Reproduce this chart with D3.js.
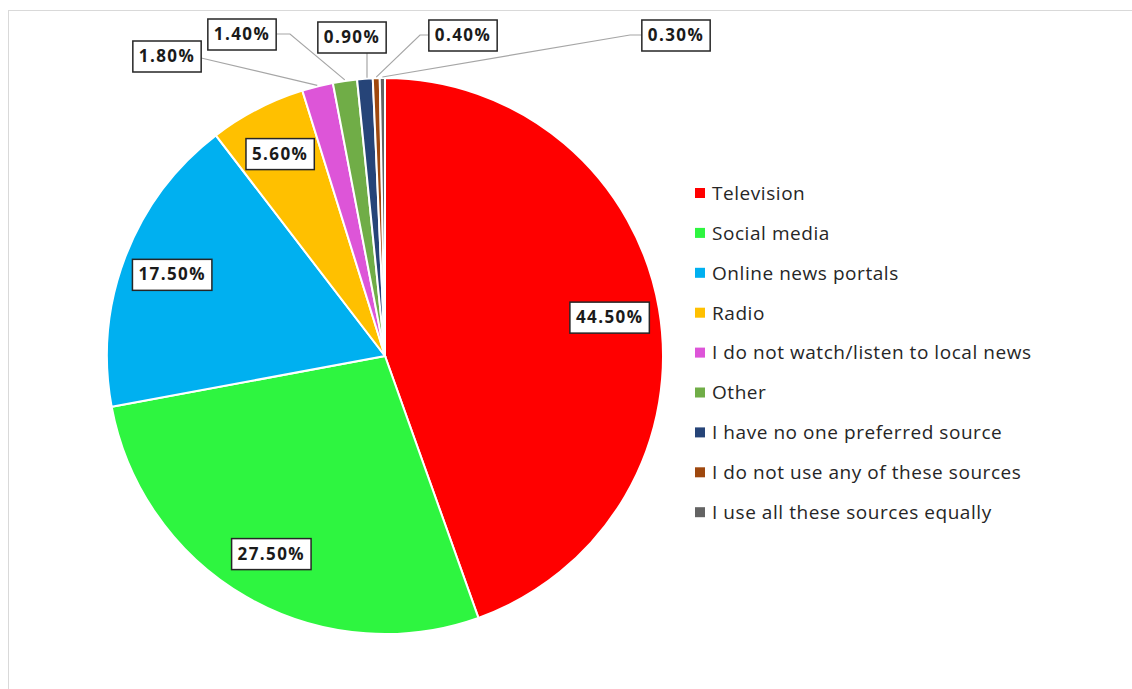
<!DOCTYPE html>
<html>
<head>
<meta charset="utf-8">
<script src="https://cdn.jsdelivr.net/npm/d3@7"></script>
<style>
  body { margin: 0; background: #fff; }
  text { font-family: "Open Sans", Lato, sans-serif; }
</style>
</head>
<body>
<svg id="chart" width="1132" height="689"></svg>
<script>
// data
var categories = ["Television", "Social media", "Online news portals", "Radio",
  "I do not watch/listen to local news", "Other", "I have no one preferred source",
  "I do not use any of these sources", "I use all these sources equally"];
var shares = [44.5, 27.5, 17.5, 5.6, 1.8, 1.4, 0.9, 0.4, 0.3];
var colors = ["#ff0000", "#2ef540", "#00b0f0", "#ffc000", "#dd55d8", "#70ad47", "#264478", "#9e480e", "#636363"];

// manual placement of the small outside labels (Excel style, dragged out)
var outsideLabels = {
  4: { x: 167, y: 56, bend: null },
  5: { x: 242, y: 34, bend: [290, 34] },
  6: { x: 352, y: 37, bend: null, fromX: 367 },
  7: { x: 463, y: 35, bend: [420, 35] },
  8: { x: 676, y: 35, bend: [630, 35] }
};

/***********************************************************************************/
// Setup

var svg = d3.select("#chart");
var cx = 385, cy = 356, R = 278;

// chart area frame
svg.append("rect")
  .attr("x", 8.5).attr("y", 10.5)
  .attr("width", 1200).attr("height", 800)
  .attr("fill", "none").attr("stroke", "#d9d9d9");

var pie = d3.pie().sort(null).value(function(d){ return d; });
var arcs = pie(shares);
var arc = d3.arc().innerRadius(0).outerRadius(R);
var labelArc = d3.arc().innerRadius(R * 0.82).outerRadius(R * 0.82);

var g = svg.append("g").attr("transform", "translate(" + cx + "," + cy + ")");

g.selectAll("path.slice").data(arcs).enter().append("path")
  .attr("class", "slice")
  .attr("d", arc)
  .attr("fill", function(d, i){ return colors[i]; })
  .attr("stroke", "#fff")
  .attr("stroke-width", 2);

/***********************************************************************************/
// Labels

function fmt(v){ return v.toFixed(2) + "%"; }

var leaders = svg.append("g");

function drawLabel(x, y, txt){
  var lg = svg.append("g").attr("transform", "translate(" + x + "," + y + ")");
  var t = lg.append("text")
    .attr("text-anchor", "middle").attr("dy", "0.36em")
    .attr("font-size", 17).attr("font-weight", "bold").attr("fill", "#1a1a1a")
    .attr("letter-spacing", 1.4)
    .text(txt);
  var bb = t.node().getBBox();
  var w = bb.width + 12;
  lg.insert("rect", "text")
    .attr("x", -w / 2).attr("y", -15)
    .attr("width", w).attr("height", 31)
    .attr("fill", "#fff").attr("stroke", "#262626").attr("stroke-width", 1.5);
  return w;
}

arcs.forEach(function(d, i){
  var o = outsideLabels[i];
  if (!o) {
    var c = labelArc.centroid(d);
    drawLabel(cx + c[0], cy + c[1], fmt(shares[i]));
    return;
  }
  var w = drawLabel(o.x, o.y, fmt(shares[i]));
  // leader line from slice edge
  var mid = (d.startAngle + d.endAngle) / 2;
  var ex = cx + Math.sin(mid) * (R + 1), ey = cy - Math.cos(mid) * (R + 1);
  var pts;
  if (o.fromX !== undefined) {
    pts = [[o.fromX, ey], [o.fromX, o.y + 16]];
  } else {
    pts = [[ex, ey]];
    if (o.bend) pts.push(o.bend);
    var side = o.x < ex ? 1 : -1;
    pts.push([o.x + side * w / 2, o.y + (o.bend ? 0 : 2)]);
  }
  leaders.append("path")
    .attr("d", d3.line()(pts))
    .attr("fill", "none").attr("stroke", "#a6a6a6").attr("stroke-width", 1.2);
});

/***********************************************************************************/
// Legend

var legend = svg.append("g").attr("transform", "translate(695,193)");
var rows = legend.selectAll("g").data(categories).enter().append("g")
  .attr("transform", function(d, i){ return "translate(0," + (i * 39.9) + ")"; });
rows.append("rect")
  .attr("x", 0).attr("y", -5).attr("width", 10).attr("height", 10)
  .attr("fill", function(d, i){ return colors[i]; });
rows.append("text")
  .attr("x", 17).attr("dy", "0.36em")
  .attr("font-size", 19).attr("fill", "#262626")
  .attr("letter-spacing", 0.55)
  .text(function(d){ return d; });
</script>
</body>
</html>
